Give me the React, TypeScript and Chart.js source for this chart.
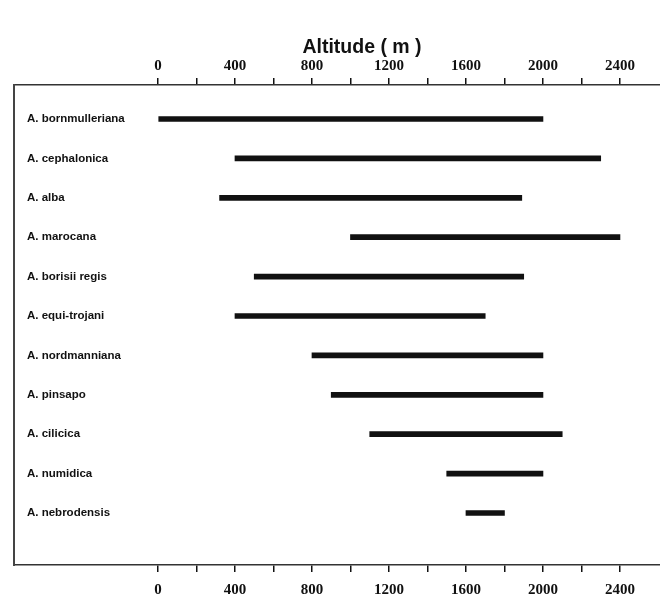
import React, { useEffect, useRef } from 'react';
import { Chart, registerables } from 'chart.js';

Chart.register(...registerables);

const SPECIES = [
  'A. bornmulleriana',
  'A. cephalonica',
  'A. alba',
  'A. marocana',
  'A. borisii regis',
  'A. equi-trojani',
  'A. nordmanniana',
  'A. pinsapo',
  'A. cilicica',
  'A. numidica',
  'A. nebrodensis',
];
const ALT_MIN = [0, 400, 320, 1000, 500, 400, 800, 900, 1100, 1500, 1600];
const ALT_MAX = [2000, 2300, 1890, 2400, 1900, 1700, 2000, 2000, 2100, 2000, 1800];
const X_TICKS = [0, 200, 400, 600, 800, 1000, 1200, 1400, 1600, 1800, 2000, 2200, 2400];
const X_LABELS = [0, 400, 800, 1200, 1600, 2000, 2400];
const AXIS_TITLE = 'Altitude ( m )';

const W = 660;
const H = 597;

const titlePlugin = {
  id: 'altTitle',
  afterDraw(chart: any) {
    const { ctx } = chart;
    ctx.save();
    ctx.font = 'bold 19.5px "Liberation Sans", Arial, sans-serif';
    ctx.fillStyle = '#111';
    ctx.textAlign = 'center';
    ctx.textBaseline = 'middle';
    ctx.fillText(AXIS_TITLE, 362, 48);
    ctx.restore();
  },
};

function xAxis(position: 'top' | 'bottom', pad: number, height: number) {
  return {
    type: 'linear' as const,
    position,
    min: -748,
    max: 2608,
    afterBuildTicks: (s: any) => {
      s.ticks = X_TICKS.map((v) => ({ value: v }));
    },
    afterFit: (s: any) => {
      s.height = height;
    },
    ticks: {
      autoSkip: false,
      maxRotation: 0,
      padding: pad,
      color: '#111',
      font: { family: '"Liberation Serif", "Times New Roman", serif', size: 15, weight: 'bold' as const },
      callback: (v: any) => (X_LABELS.includes(Number(v)) ? String(v) : ''),
    },
    grid: {
      display: true,
      drawOnChartArea: false,
      drawTicks: true,
      tickLength: 7,
      color: '#111',
      lineWidth: 1.5,
    },
    border: { display: true, color: '#333', width: 1.5 },
  };
}

export default function App() {
  const ref = useRef<HTMLCanvasElement | null>(null);

  useEffect(() => {
    document.body.style.margin = '0';
    if (!ref.current) return;
    const chart = new Chart(ref.current, {
      type: 'bar',
      data: {
        datasets: [
          {
            data: SPECIES.map((_, i) => ({ y: i, x: [ALT_MIN[i], ALT_MAX[i]] })) as any,
            backgroundColor: '#111',
            borderWidth: 0,
            borderSkipped: false,
            barThickness: 5,
          },
        ],
      },
      options: {
        indexAxis: 'y',
        animation: false,
        responsive: false,
        layout: { padding: 0 },
        plugins: { legend: { display: false }, tooltip: { enabled: false }, title: { display: false } },
        scales: {
          x: xAxis('bottom', 9, H - 565) as any,
          x2: xAxis('top', 3, 85) as any,
          y: {
            type: 'linear',
            offset: false,
            reverse: true,
            min: -0.863,
            max: 11.32,
            afterBuildTicks: (s: any) => {
              s.ticks = SPECIES.map((_, i) => ({ value: i }));
            },
            afterFit: (s: any) => {
              s.width = 14;
            },
            ticks: {
              mirror: true,
              padding: 13,
              crossAlign: 'near',
              autoSkip: false,
              color: '#111',
              font: { family: '"Liberation Sans", Arial, sans-serif', size: 11.5, weight: 'bold' },
              callback: (v: any) => SPECIES[Number(v)] ?? '',
            },
            grid: { display: false, drawTicks: false },
            border: { display: true, color: '#444', width: 2 },
          } as any,
        },
      },
      plugins: [titlePlugin],
    });
    return () => chart.destroy();
  }, []);

  return (
    <div style={{ position: 'absolute', left: 0, top: 0, width: W, height: H, background: '#fff' }}>
      <canvas ref={ref} width={W} height={H} style={{ display: 'block' }} />
    </div>
  );
}
